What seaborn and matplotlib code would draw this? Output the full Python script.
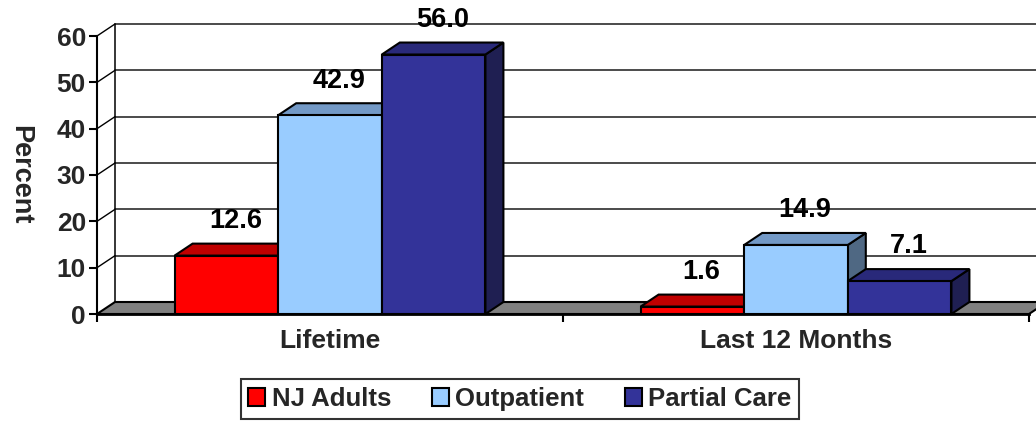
import numpy as np
import pandas as pd
import seaborn as sns
import matplotlib
matplotlib.use("Agg")
import matplotlib.pyplot as plt
from matplotlib.patches import Polygon, Patch, Rectangle

# ---- data ----
categories = ["Lifetime", "Last 12 Months"]
groups = ["NJ Adults", "Outpatient", "Partial Care"]
nj_adults = [12.6, 1.6]
outpatient = [42.9, 14.9]
partial_care = [56.0, 7.1]
yticks = [0, 10, 20, 30, 40, 50, 60]

front_colors = ["#FF0000", "#99CCFF", "#333399"]
top_colors = ["#C00000", "#7399C6", "#29297A"]
side_colors = ["#A00000", "#4F6883", "#1F1F52"]

rows = []
for g, vals in zip(groups, [nj_adults, outpatient, partial_care]):
    for c, v in zip(categories, vals):
        rows.append({"cat": c, "grp": g, "val": v})
df = pd.DataFrame(rows)

sns.set_theme(style="white")
plt.rcParams['font.family'] = ['Liberation Sans', 'DejaVu Sans']
plt.rcParams['font.weight'] = 'bold'

W, H = 1036, 424
fig = plt.figure(figsize=(W / 100, H / 100), dpi=100)
ax_l, ax_r, ax_b, ax_t = 97, 1029, 314, 36
ax = fig.add_axes([ax_l / W, (H - ax_b) / H, (ax_r - ax_l) / W, (ax_b - ax_t) / H])

sns.barplot(data=df, x="cat", y="val", hue="grp", order=categories, hue_order=groups,
            palette=front_colors, saturation=1, width=0.667, gap=0,
            edgecolor="black", linewidth=1.5, ax=ax, legend=False, errorbar=None)

bars = sorted([p for p in ax.patches if isinstance(p, Rectangle)], key=lambda p: p.get_x())

ax.set_xlim(-0.5, 1.5)
ax.set_ylim(0, 60)

# depth offsets in data units (18 px right, 12 px up)
px_x = 2.0 / (ax_r - ax_l)
px_y = 60.0 / (ax_b - ax_t)
DX, DY = 18 * px_x, 12 * px_y

# back wall gridlines & diagonal connectors
xl, xr = -0.5, 1.5
for y in yticks[1:]:
    ax.plot([xl + DX, xr + DX + 0.1], [y + DY, y + DY], color="#1a1a1a", lw=1.1,
            clip_on=False, zorder=0.5)
    ax.plot([xl, xl + DX], [y, y + DY], color="black", lw=1.0, clip_on=False, zorder=0.5)
ax.plot([xl + DX, xl + DX], [DY, 60 + DY], color="black", lw=1.1, clip_on=False, zorder=0.5)

# floor
floor = Polygon([(xl, 0), (xr, 0), (xr + DX, DY), (xl + DX, DY)], closed=True,
                facecolor="#808080", edgecolor="black", lw=1.5, clip_on=False, zorder=1)
ax.add_patch(floor)

# 3D faces for bars
for i, b in enumerate(bars):
    x0 = b.get_x()
    x1 = x0 + b.get_width()
    h = b.get_height()
    fc = np.array(b.get_facecolor())
    idx = min(range(3), key=lambda k: np.sum(np.abs(np.array(matplotlib.colors.to_rgba(front_colors[k])) - fc)))
    top = Polygon([(x0, h), (x1, h), (x1 + DX, h + DY), (x0 + DX, h + DY)], closed=True,
                  facecolor=top_colors[idx], edgecolor="black", lw=1.5, zorder=2 + 2 * i,
                  clip_on=False)
    side = Polygon([(x1, 0), (x1 + DX, DY), (x1 + DX, h + DY), (x1, h)], closed=True,
                   facecolor=side_colors[idx], edgecolor="black", lw=1.5, zorder=2 + 2 * i,
                   clip_on=False)
    ax.add_patch(side)
    ax.add_patch(top)
    b.set_zorder(3 + 2 * i)
    b.set_clip_on(False)
    ax.annotate(f"{h:.1f}", xy=((x0 + x1) / 2 + DX / 2, h + DY), xytext=(0, 7),
                textcoords="offset points", ha="center", va="bottom",
                fontsize=19.5, fontweight="bold", color="black", zorder=50,
                annotation_clip=False)

# spines
for s in ["top", "right"]:
    ax.spines[s].set_visible(False)
ax.spines["left"].set_color("black")
ax.spines["left"].set_linewidth(1.5)
ax.spines["bottom"].set_color("black")
ax.spines["bottom"].set_linewidth(2)
ax.spines["left"].set_zorder(40)
ax.spines["bottom"].set_zorder(40)

ax.set_yticks(yticks)
ax.set_yticklabels([str(v) for v in yticks], fontsize=19, fontweight="bold")
ax.tick_params(axis="y", direction="out", length=6, width=1.5, color="black", pad=2, left=True)
ax.set_xticks([0, 1])
ax.set_xticklabels(categories, fontsize=19, fontweight="bold")
ax.set_xticks([-0.5, 0.5, 1.5], minor=True)
ax.tick_params(axis="x", which="major", length=0, pad=11)
ax.tick_params(axis="x", which="minor", direction="out", length=6, width=1.5, color="black", bottom=True)

ax.set_xlabel("")
ax.set_ylabel("Percent", fontsize=19.5, fontweight="bold", rotation=270, va="center")
ax.yaxis.set_label_coords((20 - ax_l) / (ax_r - ax_l), 0.5)

handles = [Patch(facecolor=c, edgecolor="black", lw=1.5, label=g) for c, g in zip(front_colors, groups)]
leg = fig.legend(handles=handles, loc="center", bbox_to_anchor=(520 / W, 1 - 399 / H), ncol=3,
                 frameon=True, fancybox=False, edgecolor="black",
                 prop={"size": 18.5, "weight": "bold"}, handlelength=0.65, handleheight=0.65,
                 handletextpad=0.25, columnspacing=1.6, borderpad=0.3)
leg.get_frame().set_linewidth(1.5)

fig.savefig("out.png", dpi=100, facecolor="white")
